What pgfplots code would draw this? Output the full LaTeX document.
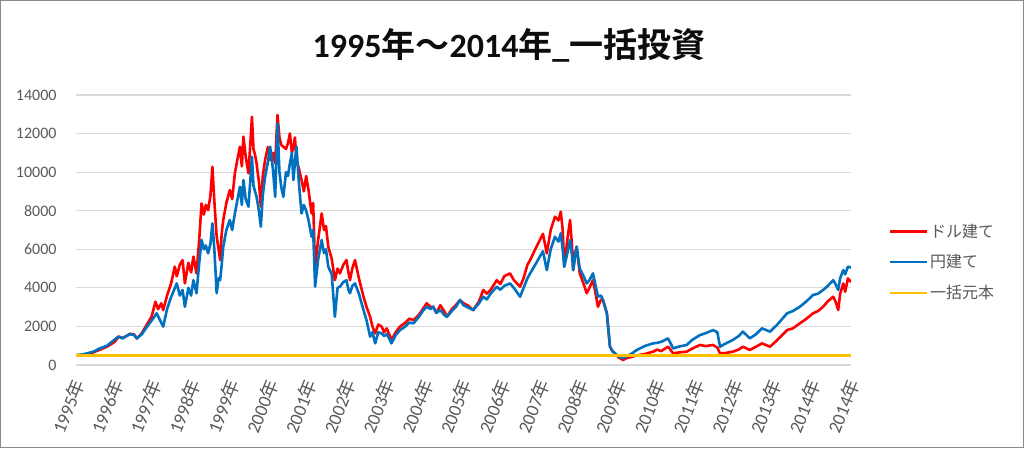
\documentclass[border=0pt]{standalone}
\usepackage{pgfplots}
\pgfplotsset{compat=1.18}
\usepackage{fontspec}
\setmainfont{Carlito}
\newfontfamily\jp[BoldFont={Noto Sans CJK JP Bold}]{Noto Sans CJK JP}
\definecolor{rred}{HTML}{FF0000}
\definecolor{bblue}{HTML}{0070C0}
\definecolor{yyellow}{HTML}{FFC000}
\definecolor{gridgray}{HTML}{D9D9D9}
\definecolor{labgray}{HTML}{595959}
\definecolor{bordergray}{HTML}{898989}
\begin{document}
\begin{tikzpicture}
\draw[draw=bordergray, line width=1pt] (0.5pt,0.5pt) rectangle (1023.5pt,447.5pt);
\node[font=\fontsize{34}{38}\selectfont\bfseries, text={rgb,255:red,13;green,13;blue,13}] at (509pt,403pt) {1995{\jp 年～}2014{\jp 年}\_{\jp 一括投資}};
\begin{axis}[
  at={(76pt,83pt)}, anchor=south west,
  scale only axis, width=775pt, height=270pt,
  xmin=0, xmax=20, ymin=0, ymax=14000,
  ytick={0,2000,...,14000},
  ymajorgrids, major grid style={draw=gridgray, line width=1.2pt},
  axis line style={draw=none}, tick style={draw=none},
  scaled y ticks=false,
  /pgf/number format/assume math mode=true,
  yticklabel style={/pgf/number format/1000 sep={}, font=\fontsize{16}{18}\selectfont, text=labgray, anchor=east, xshift=-16pt},
  xtick={0,...,20},
  xticklabels={1995{\jp 年},1996{\jp 年},1997{\jp 年},1998{\jp 年},1999{\jp 年},2000{\jp 年},2001{\jp 年},2002{\jp 年},2003{\jp 年},2004{\jp 年},2005{\jp 年},2006{\jp 年},2007{\jp 年},2008{\jp 年},2009{\jp 年},2010{\jp 年},2011{\jp 年},2012{\jp 年},2013{\jp 年},2014{\jp 年},2014{\jp 年}},
  xticklabel style={xshift=4pt, yshift=-12pt, rotate=68, anchor=east, font=\fontsize{18.5}{20}\selectfont, text=labgray},
  legend style={at={(1.048,0.381)}, anchor=west, draw=none, fill=none, inner sep=0pt, font=\fontsize{16}{18}\selectfont\jp, text=labgray, row sep=12pt},
  legend cell align=left,
  legend image code/.code={\draw[#1] (0pt,0pt) -- (37pt,0pt);},
]
\addplot[rred, line width=2.6pt, line join=round] coordinates {
(0,500) (0.2,520) (0.4,620) (0.6,780) (0.8,950) (1.0,1200) (1.1,1480) (1.2,1400) (1.3,1500) (1.4,1620) (1.5,1580) (1.57,1380) (1.7,1650) (1.82,2070) (1.95,2500) (2.05,3280) (2.12,2900) (2.2,3200) (2.25,2850) (2.35,3600) (2.45,4200) (2.55,5100) (2.6,4600) (2.68,5200) (2.75,5440) (2.81,4230) (2.9,5300) (2.97,4800) (3.03,5620) (3.11,4750) (3.18,6500) (3.24,8380) (3.3,7800) (3.35,8300) (3.41,8030) (3.47,8800) (3.52,10280) (3.57,8500) (3.63,6650) (3.68,6000) (3.72,5440) (3.76,6800) (3.8,7520) (3.88,8400) (3.97,9070) (4.03,8600) (4.1,9940) (4.16,10600) (4.23,11320) (4.28,10300) (4.32,11840) (4.38,10800) (4.45,9940) (4.5,11500) (4.54,12870) (4.58,11200) (4.62,10900) (4.66,10450) (4.72,9500) (4.77,8210) (4.82,9800) (4.88,10630) (4.95,11300) (5.01,10630) (5.08,11000) (5.14,10450) (5.2,12960) (5.25,11800) (5.3,11400) (5.35,11320) (5.42,11200) (5.47,11500) (5.52,12010) (5.57,11000) (5.61,11320) (5.65,11800) (5.69,10630) (5.75,10200) (5.82,9590) (5.88,9000) (5.94,9800) (6.0,9070) (6.08,7860) (6.12,8400) (6.17,5100) (6.25,6500) (6.34,7860) (6.4,7000) (6.45,7200) (6.51,6130) (6.6,5500) (6.68,4400) (6.75,5000) (6.81,4750) (6.9,5200) (6.98,5440) (7.03,4800) (7.07,4400) (7.13,5000) (7.2,5440) (7.3,4500) (7.42,3540) (7.5,3000) (7.59,2500) (7.65,2000) (7.72,1640) (7.8,2100) (7.89,1990) (7.95,1700) (8.02,1900) (8.1,1500) (8.14,1300) (8.25,1700) (8.36,1990) (8.5,2200) (8.6,2400) (8.71,2330) (8.85,2600) (8.95,2900) (9.05,3200) (9.15,3000) (9.22,3020) (9.3,2700) (9.4,3100) (9.5,2800) (9.57,2500) (9.7,2900) (9.8,3100) (9.91,3370) (10.0,3200) (10.1,3100) (10.25,2850) (10.4,3300) (10.51,3890) (10.6,3700) (10.7,3900) (10.86,4400) (10.95,4200) (11.05,4600) (11.2,4750) (11.3,4400) (11.46,4060) (11.55,4500) (11.65,5200) (11.72,5440) (11.85,6000) (11.97,6480) (12.05,6800) (12.15,5790) (12.25,7000) (12.36,7690) (12.45,7500) (12.51,7950) (12.56,7000) (12.6,5100) (12.68,6500) (12.75,7520) (12.8,6200) (12.83,4920) (12.88,5800) (12.92,6130) (13.0,4750) (13.1,4200) (13.18,3720) (13.25,4000) (13.34,4400) (13.4,3800) (13.47,3020) (13.55,3400) (13.6,3370) (13.7,2680) (13.74,1800) (13.78,950) (13.85,700) (13.91,600) (14.0,400) (14.12,260) (14.2,350) (14.35,430) (14.45,480) (14.55,520) (14.7,580) (14.89,690) (15.0,800) (15.1,720) (15.28,950) (15.41,600) (15.55,650) (15.76,690) (15.9,850) (16.1,1040) (16.25,980) (16.44,1040) (16.55,900) (16.62,600) (16.75,620) (16.95,690) (17.1,800) (17.21,950) (17.39,780) (17.55,950) (17.7,1120) (17.91,950) (18.1,1300) (18.35,1810) (18.5,1900) (18.68,2160) (18.85,2400) (19.02,2680) (19.15,2800) (19.28,3020) (19.4,3300) (19.54,3540) (19.6,3300) (19.67,2850) (19.72,3700) (19.8,4230) (19.85,3800) (19.92,4490) (20.0,4300)
};
\addlegendentry{ドル建て}
\addplot[bblue, line width=2.6pt, line join=round] coordinates {
(0,500) (0.2,560) (0.45,690) (0.6,850) (0.8,1000) (1.09,1470) (1.2,1380) (1.3,1500) (1.4,1600) (1.5,1550) (1.57,1380) (1.7,1600) (1.82,1950) (1.95,2300) (2.08,2680) (2.15,2400) (2.25,1990) (2.35,2900) (2.45,3500) (2.6,4230) (2.68,3600) (2.75,3890) (2.81,3020) (2.9,4000) (2.97,3600) (3.03,4400) (3.11,3720) (3.18,5300) (3.24,6480) (3.3,6000) (3.35,6200) (3.41,5790) (3.47,6300) (3.52,7340) (3.57,6000) (3.63,3720) (3.68,4500) (3.72,4400) (3.76,5200) (3.8,6130) (3.88,7000) (3.97,7520) (4.03,7000) (4.1,7860) (4.16,8500) (4.23,9240) (4.28,8300) (4.32,9590) (4.38,8600) (4.45,8210) (4.5,9600) (4.54,10800) (4.58,9300) (4.62,9000) (4.66,8720) (4.72,8000) (4.77,7170) (4.82,8800) (4.88,9760) (4.95,10500) (5.01,11320) (5.08,10200) (5.14,8720) (5.2,12530) (5.25,10000) (5.3,9200) (5.35,8720) (5.42,10000) (5.47,9800) (5.52,10450) (5.57,11000) (5.61,9590) (5.65,10500) (5.69,11320) (5.75,9500) (5.82,7860) (5.88,8300) (5.94,8000) (6.0,7520) (6.08,6650) (6.12,7000) (6.17,4060) (6.25,5500) (6.34,6480) (6.4,5800) (6.45,6000) (6.51,5100) (6.6,4700) (6.68,2500) (6.75,4000) (6.81,4060) (6.9,4300) (6.98,4400) (7.03,3900) (7.07,3720) (7.13,4100) (7.2,4230) (7.3,3700) (7.42,2850) (7.5,2300) (7.59,1470) (7.65,1700) (7.72,1120) (7.8,1700) (7.89,1640) (7.95,1500) (8.02,1600) (8.1,1300) (8.14,1120) (8.25,1550) (8.36,1810) (8.5,2000) (8.6,2200) (8.71,2160) (8.85,2500) (8.95,2800) (9.05,3020) (9.15,2900) (9.22,3020) (9.3,2700) (9.4,2850) (9.5,2600) (9.57,2500) (9.7,2800) (9.8,3000) (9.91,3370) (10.0,3100) (10.1,3000) (10.25,2850) (10.4,3200) (10.51,3540) (10.6,3400) (10.7,3700) (10.86,4060) (10.95,3900) (11.05,4100) (11.2,4230) (11.3,4000) (11.46,3540) (11.55,4000) (11.65,4500) (11.72,4750) (11.85,5200) (11.97,5620) (12.05,5900) (12.15,4920) (12.25,6000) (12.36,6650) (12.45,6400) (12.51,6830) (12.56,6000) (12.6,5100) (12.68,5800) (12.75,6480) (12.8,5700) (12.83,4920) (12.88,5600) (12.92,6130) (13.0,5000) (13.1,4600) (13.18,4230) (13.25,4400) (13.34,4750) (13.4,4200) (13.47,3540) (13.55,3600) (13.6,3370) (13.7,2680) (13.74,1800) (13.78,950) (13.85,700) (13.91,600) (14.0,450) (14.12,350) (14.2,450) (14.35,600) (14.45,750) (14.55,860) (14.7,1000) (14.89,1120) (15.0,1150) (15.1,1200) (15.28,1380) (15.41,860) (15.55,950) (15.76,1040) (15.9,1300) (16.1,1550) (16.25,1650) (16.44,1810) (16.55,1700) (16.62,950) (16.75,1100) (16.95,1300) (17.1,1500) (17.21,1730) (17.39,1380) (17.55,1600) (17.7,1900) (17.91,1730) (18.1,2100) (18.35,2680) (18.5,2800) (18.68,3020) (18.85,3300) (19.02,3630) (19.15,3700) (19.28,3890) (19.4,4100) (19.54,4400) (19.6,4200) (19.67,3890) (19.72,4500) (19.8,4920) (19.85,4700) (19.92,5100) (20.0,5050)
};
\addlegendentry{円建て}
\addplot[yyellow, line width=2.4pt] coordinates {(0,500) (20,500)};
\addlegendentry{一括元本}
\end{axis}
\end{tikzpicture}
\end{document}
